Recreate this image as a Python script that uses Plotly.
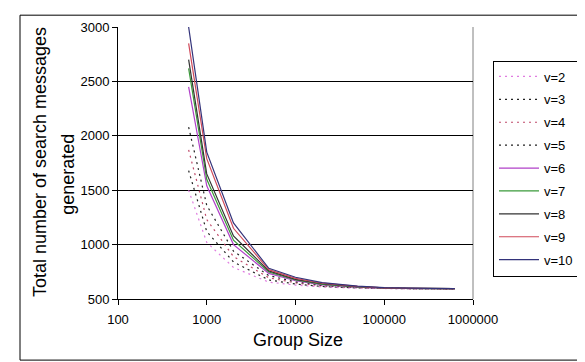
import plotly.graph_objects as go

group_size = [625, 1000, 2000, 5000, 10000, 20000, 50000, 100000, 200000, 625000]

series_names = ["v=2", "v=3", "v=4", "v=5", "v=6", "v=7", "v=8", "v=9", "v=10"]
v2 = [1500, 1020, 790, 655, 628, 610, 600, 595, 593, 592]
v3 = [1680, 1120, 840, 675, 638, 615, 602, 597, 594, 592]
v4 = [1870, 1230, 890, 695, 648, 620, 605, 598, 595, 593]
v5 = [2080, 1360, 940, 715, 658, 625, 607, 599, 596, 593]
v6 = [2450, 1540, 1000, 735, 668, 630, 610, 600, 597, 594]
v7 = [2620, 1600, 1040, 748, 675, 635, 612, 601, 598, 595]
v8 = [2700, 1650, 1080, 758, 680, 640, 614, 602, 598, 595]
v9 = [2850, 1790, 1150, 770, 690, 645, 616, 603, 599, 596]
v10 = [3000, 1850, 1200, 782, 700, 650, 618, 604, 600, 596]
all_series = [v2, v3, v4, v5, v6, v7, v8, v9, v10]

x_ticks = [100, 1000, 10000, 100000, 1000000]
x_ticktext = ["100", "1000", "10000", "100000", "1000000"]
y_ticks = [500, 1000, 1500, 2000, 2500, 3000]

colors = ["#E07CE0", "#222222", "#C04A6A", "#222222",
          "#B040C8", "#3A9A3A", "#333333", "#D04A5A", "#33337A"]
dashes = ["2px,4px", "2px,4px", "2px,4px", "2px,4px",
          "solid", "solid", "solid", "solid", "solid"]

FONT = "Liberation Sans, Arial, sans-serif"

fig = go.Figure()
for i, (name, ys) in enumerate(zip(series_names, all_series)):
    fig.add_trace(go.Scatter(
        x=group_size, y=ys, name=name, mode="lines",
        legendgroup=name,
        line=dict(color=colors[i], width=1.2, dash=dashes[i]),
    ))

L, R, T, B = 110, 120, 15, 71
W, H = 585, 362
pw, ph = W - L - R, H - T - B

def px_x(p):
    return (p - L) / pw

def px_y(p):
    return (H - B - p) / ph

fig.update_layout(
    width=W, height=H,
    margin=dict(l=L, r=R, t=T, b=B),
    paper_bgcolor="white", plot_bgcolor="white",
    font=dict(family=FONT, size=13, color="black"),
    showlegend=True,
    legend=dict(
        x=px_x(485), y=px_y(49), xanchor="left", yanchor="top",
        bordercolor="black", borderwidth=1, bgcolor="white",
        font=dict(family=FONT, size=13, color="black"),
        tracegroupgap=3, itemwidth=40,
    ),
    xaxis=dict(
        type="log", range=[2, 6],
        tickvals=x_ticks, ticktext=x_ticktext,
        showgrid=False, zeroline=False,
        showline=True, linecolor="black", linewidth=1,
        ticks="outside", ticklen=5, tickcolor="black",
        ticklabelstandoff=3,
        tickfont=dict(family=FONT, size=13),
    ),
    yaxis=dict(
        range=[500, 3000], tickvals=y_ticks,
        showgrid=True, gridcolor="black", gridwidth=1,
        zeroline=False,
        showline=True, linecolor="black", linewidth=1,
        ticks="outside", ticklen=5, tickcolor="black",
        tickfont=dict(family=FONT, size=13),
    ),
    shapes=[
        dict(type="rect", xref="paper", yref="paper",
             x0=px_x(12), x1=px_x(579), y0=px_y(353), y1=px_y(3),
             line=dict(color="black", width=1), layer="below"),
        dict(type="line", xref="paper", yref="paper",
             x0=1, x1=1, y0=0, y1=1,
             line=dict(color="#808080", width=1), layer="below"),
    ],
    annotations=[
        dict(text="Group Size", xref="paper", yref="paper",
             x=px_x(290), y=px_y(333), xanchor="center", yanchor="middle",
             showarrow=False, font=dict(family=FONT, size=18)),
        dict(text="Total number of search messages", xref="paper", yref="paper",
             x=px_x(32), y=px_y(152), xanchor="center", yanchor="middle",
             textangle=-90, showarrow=False, font=dict(family=FONT, size=18)),
        dict(text="generated", xref="paper", yref="paper",
             x=px_x(60), y=px_y(165), xanchor="center", yanchor="middle",
             textangle=-90, showarrow=False, font=dict(family=FONT, size=18)),
    ],
)

fig.write_html("out.html")
